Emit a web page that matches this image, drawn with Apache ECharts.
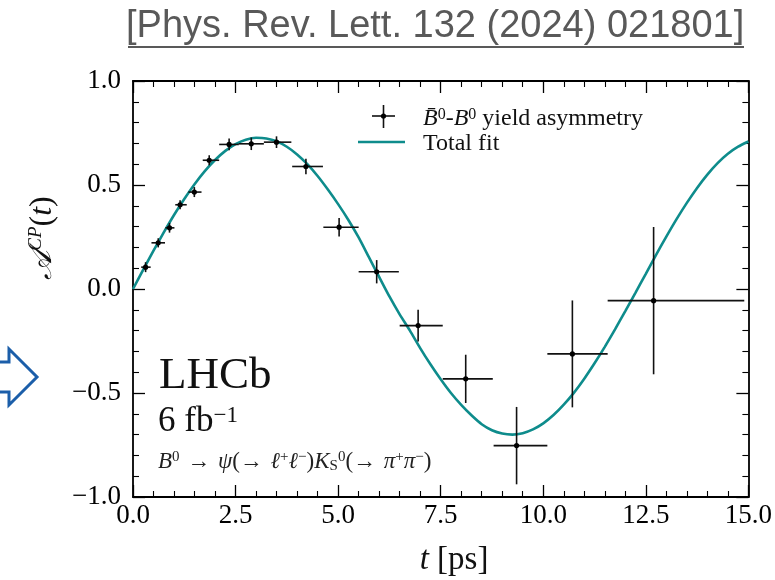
<!DOCTYPE html>
<html>
<head>
<meta charset="utf-8">
<script src="https://cdn.jsdelivr.net/npm/echarts@6/dist/echarts.min.js"></script>
<style>html,body{margin:0;padding:0;background:#fff}#c{width:775px;height:580px}</style>
</head>
<body>
<div id="c"></div>
<script>
// ---- data ----
var tVals = [0.307, 0.615, 0.89, 1.148, 1.495, 1.858, 2.343, 2.883, 3.498, 4.215, 5.024, 5.94, 6.95, 8.11, 9.35, 10.71, 12.69];
var aVals = [0.105, 0.222, 0.294, 0.405, 0.466, 0.619, 0.695, 0.698, 0.706, 0.589, 0.297, 0.083, -0.176, -0.432, -0.753, -0.312, -0.056];
var tLow  = [0.20, 0.45, 0.79, 1.03, 1.35, 1.70, 2.10, 2.58, 3.19, 3.88, 4.64, 5.50, 6.50, 7.55, 8.79, 10.10, 11.57];
var tHigh = [0.43, 0.78, 1.01, 1.31, 1.67, 2.10, 2.58, 3.19, 3.86, 4.63, 5.50, 6.48, 7.55, 8.77, 10.10, 11.57, 14.90];
var aErr  = [0.024, 0.022, 0.023, 0.022, 0.024, 0.024, 0.028, 0.030, 0.028, 0.037, 0.044, 0.056, 0.076, 0.116, 0.186, 0.257, 0.354];
var fitT = [0,0.25,0.5,0.75,1,1.25,1.5,1.75,2,2.25,2.5,2.75,3,3.25,3.5,3.75,4,4.25,4.5,4.75,5,5.25,5.5,5.75,6,6.25,6.5,6.75,7,7.25,7.5,7.75,8,8.25,8.5,8.75,9,9.25,9.5,9.75,10,10.25,10.5,10.75,11,11.25,11.5,11.75,12,12.25,12.5,12.75,13,13.25,13.5,13.75,14,14.25,14.5,14.75,15];
var fitA = [0.000,0.093,0.184,0.272,0.356,0.433,0.504,0.567,0.620,0.664,0.697,0.718,0.727,0.724,0.710,0.684,0.647,0.600,0.543,0.478,0.408,0.332,0.248,0.153,0.058,-0.036,-0.122,-0.200,-0.284,-0.362,-0.434,-0.500,-0.557,-0.607,-0.650,-0.679,-0.695,-0.700,-0.693,-0.675,-0.646,-0.606,-0.556,-0.498,-0.431,-0.357,-0.278,-0.194,-0.106,-0.017,0.073,0.164,0.252,0.336,0.414,0.486,0.550,0.605,0.650,0.684,0.709];
var xTicks = {min: 0, max: 15, step: 2.5};
var yTicks = {min: -1, max: 1, step: 0.5};

var SERIF = '"Liberation Serif", "DejaVu Serif", serif';
var chart = echarts.init(document.getElementById('c'), null, {renderer: 'canvas'});

var errData = tVals.map(function (t, i) { return [t, aVals[i], tLow[i], tHigh[i], aErr[i]]; });
var fitData = fitT.map(function (t, i) { return [t, fitA[i]]; });

function fmt(v) { var s = Math.abs(v).toFixed(1); return v < 0 ? '\u2212' + s : s; }

var axisCommon = {
  type: 'value',
  axisLine: {show: true, onZero: false, lineStyle: {color: '#000', width: 1.8}},
  splitLine: {show: false},
  axisTick: {show: true, inside: true, length: 12, lineStyle: {color: '#000', width: 1.3}},
  minorTick: {show: true, splitNumber: 5, length: 6, lineStyle: {color: '#000', width: 1.1}}
};

var option = {
  animation: false,
  backgroundColor: '#fff',
  grid: {left: 133, right: 22, top: 81, bottom: 83, containLabel: false},
  xAxis: [
    Object.assign({}, axisCommon, {
      position: 'bottom', min: xTicks.min, max: xTicks.max, interval: xTicks.step,
      axisLabel: {show: true, formatter: fmt, fontFamily: SERIF, fontSize: 27, color: '#000', margin: 5, showMinLabel: true, showMaxLabel: true}
    }),
    Object.assign({}, axisCommon, {
      position: 'top', min: xTicks.min, max: xTicks.max, interval: xTicks.step,
      axisLabel: {show: false}
    })
  ],
  yAxis: [
    Object.assign({}, axisCommon, {
      position: 'left', min: yTicks.min, max: yTicks.max, interval: yTicks.step,
      axisLabel: {show: true, formatter: fmt, fontFamily: SERIF, fontSize: 27, color: '#000', margin: 12, showMinLabel: true, showMaxLabel: true}
    }),
    Object.assign({}, axisCommon, {
      position: 'right', min: yTicks.min, max: yTicks.max, interval: yTicks.step,
      axisLabel: {show: false}
    })
  ],
  series: [
    {
      type: 'line', name: 'Total fit', data: fitData, xAxisIndex: 0, yAxisIndex: 0,
      smooth: 0.2, showSymbol: false, clip: true,
      lineStyle: {color: '#0e8c8c', width: 2.6}, z: 3
    },
    {
      type: 'custom', name: 'asym', data: errData, xAxisIndex: 0, yAxisIndex: 0, z: 4,
      renderItem: function (params, api) {
        var x = api.value(0), y = api.value(1), lo = api.value(2), hi = api.value(3), e = api.value(4);
        var pL = api.coord([lo, y]), pR = api.coord([hi, y]);
        var pT = api.coord([x, y + e]), pB = api.coord([x, y - e]);
        var pC = api.coord([x, y]);
        return {type: 'group', children: [
          {type: 'line', shape: {x1: pL[0], y1: pL[1], x2: pR[0], y2: pR[1]}, style: {stroke: '#111', lineWidth: 1.6}},
          {type: 'line', shape: {x1: pT[0], y1: pT[1], x2: pB[0], y2: pB[1]}, style: {stroke: '#111', lineWidth: 1.6}},
          {type: 'circle', shape: {cx: pC[0], cy: pC[1], r: 2.6}, style: {fill: '#000'}}
        ]};
      }
    }
  ],
  graphic: [
    // reference header
    {type: 'text', left: 126, top: 8, style: {text: '[Phys. Rev. Lett. 132 (2024) 021801]', font: '38px "Liberation Sans", Arial, sans-serif', fill: '#595959'}},
    {type: 'line', shape: {x1: 128, y1: 47, x2: 744, y2: 47}, style: {stroke: '#595959', lineWidth: 2}},
    // blue outline arrow
    {type: 'polyline', shape: {points: [[-3, 362], [9, 362], [9, 349], [37, 377], [9, 405], [9, 392], [-3, 392]]}, style: {stroke: '#1b5ea9', lineWidth: 3, fill: null}},
    // legend
    {type: 'line', shape: {x1: 372, y1: 116, x2: 395, y2: 116}, style: {stroke: '#111', lineWidth: 1.6}},
    {type: 'line', shape: {x1: 383.5, y1: 105, x2: 383.5, y2: 128}, style: {stroke: '#111', lineWidth: 1.6}},
    {type: 'circle', shape: {cx: 383.5, cy: 116, r: 2.6}, style: {fill: '#000'}},
    {type: 'line', shape: {x1: 358, y1: 142, x2: 405, y2: 142}, style: {stroke: '#0e8c8c', lineWidth: 2.6}},
    {type: 'text', x: 423, y: 119, style: {
      text: '{i|B\u0304}{s|0}{r|-}{i|B}{s|0}{r| yield asymmetry}', verticalAlign: 'middle', fill: '#111',
      rich: {
        i: {fontFamily: SERIF, fontSize: 24, fontStyle: 'italic', fill: '#111', lineHeight: 25},
        r: {fontFamily: SERIF, fontSize: 24, fill: '#111', lineHeight: 25},
        s: {fontFamily: SERIF, fontSize: 16, fill: '#111', verticalAlign: 'top', lineHeight: 16}
      }}},
    {type: 'text', x: 423, y: 144, style: {text: 'Total fit', font: '24px ' + SERIF, fill: '#111', verticalAlign: 'middle'}},
    // LHCb labels
    {type: 'text', x: 159, y: 376, style: {text: 'LHCb', font: '45px ' + SERIF, fill: '#111', verticalAlign: 'middle'}},
    {type: 'text', x: 158, y: 422, style: {
      text: '{r|6\u2005fb}{s|\u22121}', verticalAlign: 'middle',
      rich: {
        r: {fontFamily: SERIF, fontSize: 35, fill: '#111', lineHeight: 36},
        s: {fontFamily: SERIF, fontSize: 23, fill: '#111', verticalAlign: 'top', lineHeight: 23}
      }}},
    {type: 'text', x: 158, y: 462, style: {
      text: '{i|B}{s|0}{r|\u2004\u2192\u2004}{i|\u03C8}{r|(\u2192\u2004}{i|\u2113}{s|+}{i|\u2113}{s|\u2212}{r|)}{i|K}{b|S}{s|0}{r|(\u2192\u2004}{i|\u03C0}{s|+}{i|\u03C0}{s|\u2212}{r|)}',
      verticalAlign: 'middle',
      rich: {
        i: {fontFamily: SERIF, fontSize: 23, fontStyle: 'italic', fill: '#222', lineHeight: 24},
        r: {fontFamily: SERIF, fontSize: 23, fill: '#222', lineHeight: 24},
        s: {fontFamily: SERIF, fontSize: 15, fill: '#222', verticalAlign: 'top', lineHeight: 14},
        b: {fontFamily: SERIF, fontSize: 15, fill: '#222', verticalAlign: 'bottom', lineHeight: 14}
      }}},
    // axis titles
    {type: 'text', x: 454, y: 560, style: {
      text: '{i|t}{r| [ps]}', align: 'center', verticalAlign: 'middle',
      rich: {
        i: {fontFamily: SERIF, fontSize: 33, fontStyle: 'italic', fill: '#111'},
        r: {fontFamily: SERIF, fontSize: 33, fill: '#111'}
      }}},
    {type: 'text', x: 43, y: 238, rotation: Math.PI / 2, style: {
      text: '{a|\uD835\uDC9C}{s|CP}{r|(}{i|t}{r|)}', align: 'center', verticalAlign: 'middle',
      rich: {
        a: {fontFamily: '"DejaVu Serif", "Liberation Serif", serif', fontSize: 31, fontStyle: 'italic', fill: '#111', lineHeight: 34},
        i: {fontFamily: SERIF, fontSize: 32, fontStyle: 'italic', fill: '#111', lineHeight: 34},
        r: {fontFamily: SERIF, fontSize: 32, fill: '#111', lineHeight: 34},
        s: {fontFamily: SERIF, fontSize: 19, fontStyle: 'italic', fill: '#111', verticalAlign: 'top', lineHeight: 19}
      }}}
  ]
};
chart.setOption(option);
</script>
</body>
</html>
